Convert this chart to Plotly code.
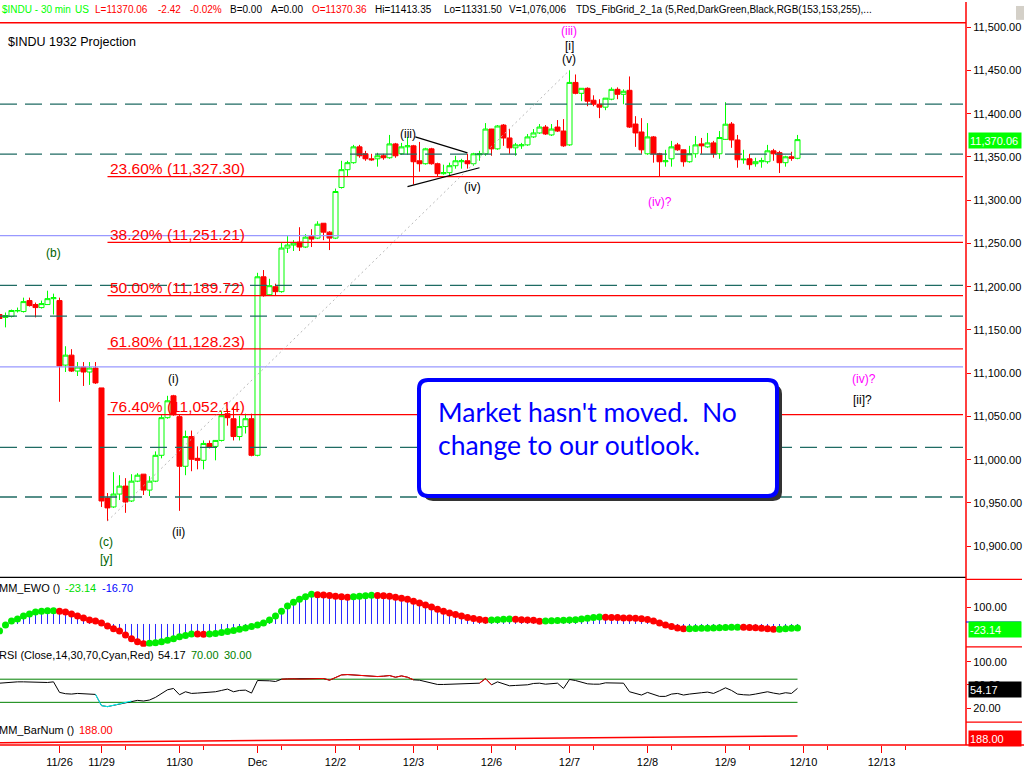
import plotly.graph_objects as go

# ---------------- data ----------------
sessions = ['11/24', '11/26', '11/29', '11/30', 'Dec', '12/2', '12/3', '12/6', '12/7', '12/8', '12/9']
bars_per_session = [10, 7, 13, 13, 13, 13, 13, 13, 13, 13, 13]
future_sessions = ['12/10', '12/13']

opens = [11167.9, 11164.5, 11165.6, 11172.0, 11171.3, 11184.0, 11179.4, 11175.9, 11179.4, 11186.2,
         11184.0, 11109.4, 11120.9, 11102.5, 11107.1, 11101.4, 11106.0, 11083.0, 10955.7, 10945.4,
         10960.3, 10969.5, 10952.3, 10975.2, 10983.3, 10964.9, 10975.2, 11005.1, 11048.6, 11073.9,
         11049.8, 10992.4, 11026.8, 11001.6, 10999.3, 11018.8, 11015.4, 11022.3, 11053.2, 11047.4,
         11026.8, 11038.3, 11047.4, 11005.1, 11211.5, 11190.8, 11200.0, 11194.3, 11244.7, 11248.2,
         11251.6, 11245.9, 11258.5, 11256.2, 11273.4, 11263.1, 11256.2, 11314.7, 11335.3, 11343.4,
         11361.7, 11353.7, 11347.9, 11347.9, 11351.4, 11349.1, 11365.1, 11353.7, 11361.7, 11362.9,
         11345.6, 11342.2, 11359.4, 11342.2, 11330.7, 11331.9, 11339.9, 11344.5, 11345.6, 11342.2,
         11352.5, 11353.7, 11382.3, 11359.4, 11386.9, 11372.0, 11360.6, 11362.9, 11364.0, 11373.2,
         11377.8, 11384.6, 11375.5, 11384.6, 11380.0, 11364.0, 11436.2, 11423.6, 11429.4, 11415.6,
         11411.0, 11407.6, 11416.8, 11428.2, 11422.5, 11427.1, 11388.1, 11378.9, 11353.7, 11373.2,
         11353.7, 11344.5, 11347.9, 11364.0, 11358.3, 11344.5, 11353.7, 11365.1, 11361.7, 11366.3,
         11353.7, 11370.36, 11388.1, 11369.7, 11346.8, 11347.9, 11342.2, 11344.5, 11344.5, 11357.1,
         11355.0, 11343.4, 11350.2, 11348.5]
highs = [11171.3, 11170.2, 11173.6, 11175.9, 11187.4, 11187.4, 11181.7, 11184.0, 11195.4, 11192.0,
         11187.4, 11131.2, 11127.8, 11112.9, 11112.9, 11112.9, 11112.9, 11083.0, 10961.5, 10985.6,
         10982.1, 10978.7, 10983.3, 10984.4, 10983.5, 10981.0, 11009.6, 11052.0, 11073.9, 11075.0,
         11052.0, 11033.7, 11033.7, 11015.4, 11022.3, 11022.3, 11022.5, 11056.6, 11058.9, 11061.2,
         11050.9, 11053.2, 11053.2, 11216.1, 11219.3, 11209.2, 11203.5, 11250.5, 11258.5, 11253.9,
         11268.8, 11260.8, 11266.5, 11275.7, 11273.6, 11264.2, 11313.5, 11345.6, 11345.6, 11364.0,
         11364.0, 11357.1, 11353.7, 11354.8, 11353.7, 11375.5, 11366.3, 11366.3, 11373.2, 11364.0,
         11367.4, 11360.6, 11360.6, 11343.4, 11341.1, 11343.4, 11351.4, 11347.9, 11353.7, 11354.8,
         11357.1, 11389.2, 11382.5, 11386.9, 11388.1, 11382.3, 11366.3, 11366.3, 11376.6, 11382.3,
         11388.1, 11386.9, 11388.1, 11392.7, 11393.8, 11450.3, 11445.4, 11429.6, 11430.5, 11421.3,
         11416.8, 11418.2, 11430.5, 11430.5, 11428.2, 11443.1, 11397.2, 11394.9, 11389.2, 11374.3,
         11354.8, 11358.3, 11368.6, 11366.3, 11358.5, 11362.9, 11374.3, 11372.0, 11377.8, 11368.6,
         11380.0, 11413.35, 11390.4, 11375.5, 11358.3, 11353.7, 11349.1, 11349.1, 11364.0, 11359.4,
         11357.1, 11351.4, 11356.0, 11375.5]
lows = [11161.0, 11153.0, 11164.5, 11170.2, 11170.2, 11177.1, 11164.5, 11174.8, 11179.0, 11167.9,
        11067.0, 11101.4, 11101.4, 11096.8, 11085.3, 11086.5, 11087.6, 10945.4, 10929.2, 10944.3,
        10953.4, 10938.6, 10951.1, 10974.1, 10959.2, 10958.0, 10974.1, 11001.6, 11047.4, 11050.9,
        10940.9, 10982.1, 10986.7, 10988.9, 10988.9, 11013.1, 10999.3, 11021.1, 11039.4, 11022.3,
        11022.3, 11030.3, 11003.9, 11003.9, 11188.5, 11189.7, 11189.7, 11193.1, 11239.0, 11241.3,
        11241.3, 11244.7, 11245.9, 11255.1, 11253.9, 11242.4, 11255.1, 11313.5, 11327.3, 11342.2,
        11349.1, 11345.6, 11345.6, 11338.8, 11346.8, 11347.9, 11349.1, 11352.5, 11352.5, 11318.1,
        11333.0, 11341.1, 11341.1, 11327.3, 11329.6, 11328.4, 11336.5, 11336.5, 11336.5, 11339.9,
        11345.6, 11351.4, 11351.4, 11358.3, 11362.9, 11353.7, 11351.4, 11359.4, 11362.9, 11372.0,
        11376.6, 11375.5, 11374.3, 11378.9, 11361.7, 11362.9, 11422.5, 11414.5, 11408.7, 11408.7,
        11394.9, 11404.1, 11415.6, 11416.8, 11411.0, 11383.5, 11361.7, 11353.7, 11352.5, 11343.4,
        11327.3, 11338.8, 11338.8, 11357.1, 11338.8, 11343.4, 11349.1, 11353.7, 11360.6, 11349.1,
        11347.9, 11369.7, 11360.6, 11337.6, 11342.2, 11335.3, 11338.8, 11337.6, 11342.2, 11345.6,
        11331.5, 11338.8, 11345.6, 11347.4]
closes = [11163.3, 11166.7, 11172.5, 11172.5, 11182.8, 11178.2, 11175.9, 11180.5, 11186.2, 11187.4,
          11108.3, 11120.9, 11102.5, 11107.1, 11101.4, 11106.0, 11088.8, 10952.3, 10944.3, 10960.3,
          10969.5, 10951.1, 10975.2, 10982.1, 10964.9, 10975.2, 11005.1, 11048.6, 11068.1, 11052.0,
          10992.4, 11026.8, 11000.5, 10999.3, 11018.8, 11014.3, 11022.3, 11050.9, 11048.6, 11026.8,
          11038.3, 11047.4, 11005.1, 11211.5, 11189.7, 11201.2, 11194.3, 11244.7, 11248.2, 11250.5,
          11245.9, 11257.3, 11255.1, 11272.3, 11263.1, 11256.2, 11310.1, 11335.3, 11343.4, 11361.7,
          11351.4, 11347.9, 11346.8, 11351.4, 11349.1, 11365.1, 11351.4, 11361.7, 11362.9, 11344.5,
          11342.2, 11359.4, 11342.2, 11330.7, 11331.9, 11339.9, 11345.6, 11345.6, 11342.2, 11353.7,
          11353.7, 11382.3, 11359.4, 11385.8, 11372.0, 11360.6, 11364.0, 11364.0, 11373.2, 11377.8,
          11384.6, 11376.6, 11382.3, 11380.0, 11362.9, 11436.2, 11423.6, 11429.4, 11414.5, 11411.0,
          11407.6, 11418.0, 11428.2, 11422.5, 11426.0, 11384.6, 11377.8, 11358.3, 11373.2, 11353.7,
          11344.5, 11345.6, 11361.7, 11358.3, 11344.5, 11353.7, 11364.0, 11362.9, 11366.3, 11353.7,
          11372.48, 11387.9, 11369.7, 11346.8, 11347.4, 11341.1, 11344.5, 11345.6, 11357.1, 11353.7,
          11343.4, 11350.2, 11348.5, 11370.06]

ewo = [-41, -6, 18, 29, 47, 59, 71, 76, 78, 79,
       76, 71, 59, 47, 35, 24, 18, 6, -12, -29,
       -41, -65, -88, -106, -118, -115, -112, -106, -97, -88,
       -76, -68, -59, -60, -61, -59, -56, -50, -44, -38,
       -32, -24, -15, -6, 6, 24, 47, 76, 106, 129,
       147, 162, 176, 174, 172, 169, 165, 162, 159, 161,
       164, 167, 170, 169, 167, 164, 159, 153, 147, 135,
       124, 112, 100, 88, 76, 65, 56, 47, 38, 32,
       26, 22, 23, 25, 28, 29, 28, 25, 23, 22,
       16, 18, 19, 20, 22, 24, 25, 29, 34, 38,
       41, 40, 39, 38, 36, 35, 34, 31, 26, 18,
       6, -6, -15, -24, -29, -28, -27, -26, -25, -24,
       -22, -21, -20, -19, -20, -21, -22, -25, -28, -32,
       -31, -28, -26, -23.14]
ewo_signal_last = -16.70

rsi = [63.1, 64.3, 64.9, 65.4, 65.4, 64.9, 64.3, 63.7, 64.3, 65.4,
       47.2, 44.9, 44.3, 45.4, 44.9, 44.3, 43.7, 24.3, 22.6, 24.8,
       27.1, 29.4, 32.3, 33.4, 32.3, 34.0, 38.6, 45.4, 51.7, 54.0,
       43.1, 48.3, 45.4, 46.0, 46.6, 47.2, 48.3, 50.6, 52.9, 48.3,
       50.6, 51.1, 46.0, 67.7, 67.7, 67.2, 66.0, 70.0, 70.6, 70.6,
       70.0, 70.6, 71.2, 70.6, 71.2, 68.3, 73.4, 77.4, 78.0, 77.4,
       76.9, 75.2, 74.6, 74.6, 75.2, 76.3, 73.4, 75.7, 73.4, 68.9,
       68.3, 66.0, 63.1, 60.9, 60.9, 61.4, 62.0, 62.0, 62.6, 63.1,
       63.1, 71.0, 60.3, 65.4, 62.0, 58.6, 59.2, 59.2, 60.3, 62.6,
       63.1, 61.4, 62.0, 63.1, 54.0, 69.5, 67.7, 64.9, 62.0, 61.4,
       61.4, 63.7, 63.1, 63.1, 63.1, 48.3, 46.0, 42.6, 47.2, 44.3,
       40.3, 40.3, 44.3, 45.4, 42.6, 44.3, 46.0, 46.6, 47.7, 45.4,
       50.0, 55.1, 50.6, 44.3, 43.1, 42.6, 44.3, 46.0, 48.3, 46.0,
       44.3, 46.6, 45.4, 54.17]
rsi_upper, rsi_lower = 70.0, 30.0

barnum = [55, 56, 57, 58, 59, 60, 61, 62, 63, 64, 65, 66, 67, 68, 69, 70, 71, 72, 73, 74,
          75, 76, 77, 78, 79, 80, 81, 82, 83, 84, 85, 86, 87, 88, 89, 90, 91, 92, 93, 94,
          95, 96, 97, 98, 99, 100, 101, 102, 103, 104, 105, 106, 107, 108, 109, 110, 111, 112, 113, 114,
          115, 116, 117, 118, 119, 120, 121, 122, 123, 124, 125, 126, 127, 128, 129, 130, 131, 132, 133, 134,
          135, 136, 137, 138, 139, 140, 141, 142, 143, 144, 145, 146, 147, 148, 149, 150, 151, 152, 153, 154,
          155, 156, 157, 158, 159, 160, 161, 162, 163, 164, 165, 166, 167, 168, 169, 170, 171, 172, 173, 174,
          175, 176, 177, 178, 179, 180, 181, 182, 183, 184, 185, 186, 187, 188]

fib_pcts = [23.60, 38.20, 50.00, 61.80, 76.40]
fib_levels = [11327.30, 11251.21, 11189.72, 11128.23, 11052.14]
dashed_levels = [11411.0, 11353.3, 11201.6, 11166.0, 11014.2, 10956.9]
lavender_levels = [11259.1, 11107.4]
price_ticks = [10900, 10950, 11000, 11050, 11100, 11150, 11200, 11250, 11300, 11350, 11400, 11450, 11500]

fib_low_bar, fib_high_bar = 18, 95
tri_upper = [(69.3, 11373.2), (78.0, 11354.8)]
tri_lower = [(68.0, 11315.8), (80.0, 11337.6)]

# ---------------- geometry helpers ----------------
PW, PH = 966.0, 749.0
FONT = 'Arial, Liberation Sans, sans-serif'


def X(px):
    return px / PW


def Y(py):
    return (PH - py) / PH


def P(px):  # pixel -> bar position (bar centres land on pixel centres)
    return (px + 0.5) / 6.0


xpos = list(range(len(opens)))

starts = []
s = 0
for n in bars_per_session:
    starts.append(s)
    s += n
tick_pos = starts[1:] + [s, s + 13]
tick_txt = sessions[1:] + future_sessions
minor_pos = [st + 4 for st, n in zip(starts, bars_per_session) if n == 13 and st > 0] + [s + 4, s + 17]

fig = go.Figure()

fig.add_trace(go.Candlestick(
    x=xpos, open=opens, high=highs, low=lows, close=closes,
    increasing=dict(line=dict(color='#00ff00', width=1), fillcolor='#ffffff'),
    decreasing=dict(line=dict(color='#ff0000', width=1), fillcolor='#ff0000'),
    whiskerwidth=0, xaxis='x', yaxis='y', showlegend=False, hoverinfo='skip'))

# EWO histogram + dots
hx, hy = [], []
for p, v in zip(xpos, ewo):
    hx += [p, p, None]
    hy += [0, v, None]
fig.add_trace(go.Scatter(x=hx, y=hy, mode='lines', line=dict(color='#2a2aff', width=1),
                         xaxis='x', yaxis='y2', showlegend=False, hoverinfo='skip'))
ewo_colors = ['#00ee00'] + ['#00ee00' if ewo[k] >= ewo[k - 1] else '#ff0000' for k in range(1, len(ewo))]
fig.add_trace(go.Scatter(x=xpos, y=ewo, mode='markers', marker=dict(size=7, color=ewo_colors, line=dict(width=0)),
                         xaxis='x', yaxis='y2', showlegend=False, hoverinfo='skip'))

# RSI
fig.add_trace(go.Scatter(x=xpos, y=[rsi_upper] * len(xpos), mode='lines', line=dict(color='#008000', width=1),
                         xaxis='x', yaxis='y3', showlegend=False, hoverinfo='skip'))
fig.add_trace(go.Scatter(x=xpos, y=[rsi_lower] * len(xpos), mode='lines', line=dict(color='#008000', width=1),
                         xaxis='x', yaxis='y3', showlegend=False, hoverinfo='skip'))
fig.add_trace(go.Scatter(x=xpos, y=rsi, mode='lines', line=dict(color='#000000', width=1),
                         xaxis='x', yaxis='y3', showlegend=False, hoverinfo='skip'))


def overlay(cond):
    out = []
    for k in range(len(rsi)):
        near = cond(rsi[k]) or (k > 0 and cond(rsi[k - 1])) or (k < len(rsi) - 1 and cond(rsi[k + 1]))
        out.append(rsi[k] if near else None)
    return out


fig.add_trace(go.Scatter(x=xpos, y=overlay(lambda r: r > rsi_upper), mode='lines',
                         line=dict(color='#ff0000', width=1), connectgaps=False,
                         xaxis='x', yaxis='y3', showlegend=False, hoverinfo='skip'))
fig.add_trace(go.Scatter(x=xpos, y=overlay(lambda r: r < rsi_lower), mode='lines',
                         line=dict(color='#00ffff', width=1), connectgaps=False,
                         xaxis='x', yaxis='y3', showlegend=False, hoverinfo='skip'))

# BarNum
fig.add_trace(go.Scatter(x=xpos, y=barnum, mode='lines', line=dict(color='#ff0000', width=1.5),
                         xaxis='x', yaxis='y4', showlegend=False, hoverinfo='skip'))

shapes = []
xr_end = P(963)
for lv in dashed_levels:
    shapes.append(dict(type='line', xref='x', yref='y', x0=P(0), x1=xr_end, y0=lv, y1=lv,
                       line=dict(color='#1f6b63', width=1.3, dash='17px,8px')))
for lv in lavender_levels:
    shapes.append(dict(type='line', xref='x', yref='y', x0=P(0), x1=xr_end, y0=lv, y1=lv,
                       line=dict(color='rgb(153,153,255)', width=1.3)))
for lv in fib_levels:
    shapes.append(dict(type='line', xref='x', yref='y', x0=fib_low_bar, x1=xr_end, y0=lv, y1=lv,
                       line=dict(color='#ff0000', width=1.2)))
shapes.append(dict(type='line', xref='x', yref='y', x0=fib_low_bar, y0=lows[fib_low_bar],
                   x1=fib_high_bar, y1=highs[fib_high_bar],
                   line=dict(color='#b8b8b8', width=1, dash='2px,3px')))
for seg in (tri_upper, tri_lower):
    shapes.append(dict(type='line', xref='x', yref='y', x0=seg[0][0], y0=seg[0][1], x1=seg[1][0], y1=seg[1][1],
                       line=dict(color='#000000', width=1.2)))

# frame lines
shapes += [
    dict(type='line', xref='paper', yref='paper', x0=0, x1=1, y0=Y(21), y1=Y(21), line=dict(color='#ff0000', width=1.5)),
    dict(type='line', xref='paper', yref='paper', x0=0, x1=1, y0=Y(580), y1=Y(580), line=dict(color='#000000', width=1.2)),
    dict(type='line', xref='paper', yref='paper', x0=1, x1=1, y0=Y(0), y1=Y(749), line=dict(color='#ff0000', width=1.5)),
    dict(type='line', xref='paper', yref='paper', x0=0, x1=X(1024), y0=Y(749), y1=Y(749), line=dict(color='#ff0000', width=1.5)),
]
for py in (582, 650, 726):
    shapes.append(dict(type='line', xref='paper', yref='paper', x0=1, x1=X(1022), y0=Y(py), y1=Y(py),
                       line=dict(color='#ff0000', width=1.2)))
shapes.append(dict(type='line', xref='paper', yref='paper', x0=1, x1=X(1021), y0=Y(625), y1=Y(625),
                   line=dict(color='#0000ff', width=1.2)))
shapes.append(dict(type='rect', xref='paper', yref='paper', x0=X(1016), x1=X(1024), y0=Y(18), y1=Y(4),
                   fillcolor='#d4d0c8', line=dict(width=0)))


def rrect(x0, y0, x1, y1, r):
    pts = [('M', x0 + r, y0), ('L', x1 - r, y0), ('Q', x1, y0, x1, y0 + r), ('L', x1, y1 - r),
           ('Q', x1, y1, x1 - r, y1), ('L', x0 + r, y1), ('Q', x0, y1, x0, y1 - r), ('L', x0, y0 + r),
           ('Q', x0, y0, x0 + r, y0)]
    out = ''
    for p in pts:
        c = p[0]
        vals = p[1:]
        coords = []
        for k in range(0, len(vals), 2):
            coords.append('%.5f,%.5f' % (X(vals[k]), Y(vals[k + 1])))
        out += c + ' ' + ' '.join(coords) + ' '
    return out + 'Z'


shapes.append(dict(type='path', xref='paper', yref='paper', path=rrect(424, 386, 782, 503, 9),
                   fillcolor='#333333', line=dict(width=0)))
shapes.append(dict(type='path', xref='paper', yref='paper', path=rrect(419, 381, 777, 498, 9),
                   fillcolor='#ffffff', line=dict(color='#0000ff', width=4)))

ann = []


def txt(px, py, text, color='#000000', size=12, anchor='left', family=FONT):
    ann.append(dict(xref='paper', yref='paper', x=X(px), y=Y(py), text=text, showarrow=False,
                    xanchor=anchor, yanchor='middle', font=dict(color=color, size=size, family=family)))


# header
hdr = [(0, '$INDU - 30 min', '#00ff00'), (73, 'US', '#00ff00'), (93, 'L=11370.06', '#ff0000'),
       (156, '-2.42', '#ff0000'), (188, '-0.02%', '#ff0000'), (228, 'B=0.00', '#000000'),
       (269, 'A=0.00', '#000000'), (310, 'O=11370.36', '#ff0000'), (373, 'Hi=11413.35', '#000000'),
       (442, 'Lo=11331.50', '#000000'), (507, 'V=1,076,006', '#000000'),
       (574, 'TDS_FibGrid_2_1a (5,Red,DarkGreen,Black,RGB(153,153,255),...', '#000000')]
for px, t, c in hdr:
    txt(px, 8, t, c, 10)
txt(6, 40, '$INDU 1932 Projection', '#000000', 12.5)

for pct, lv, py in zip(fib_pcts, fib_levels, [168, 234, 288, 342, 408]):
    txt(108, py, '%.2f%% (%s)' % (pct, format(lv, ',.2f')), '#ff0000', 15.5)

DG = '#006400'
MG = '#ff00ff'
txt(53, 253, '(b)', DG, 12, 'center')
txt(106, 544, '(c)', DG, 12, 'center')
txt(106, 562, '[y]', DG, 12, 'center')
txt(173, 380, '(i)', '#000000', 12, 'center')
txt(178, 534, '(ii)', '#000000', 12, 'center')
txt(408, 133, '(iii)', '#000000', 12, 'center')
txt(472, 186, '(iv)', '#000000', 12, 'center')
txt(569, 29, '(iii)', MG, 12, 'center')
txt(569, 44, '[i]', '#000000', 12, 'center')
txt(569, 57, '(v)', '#000000', 12, 'center')
txt(660, 202, '(iv)?', MG, 12, 'center')
txt(864, 380, '(iv)?', MG, 12, 'center')
txt(862, 401, '[ii]?', '#000000', 12, 'center')

# text box
BOXFONT = 'Lato, Open Sans, sans-serif'
txt(436, 413, "Market hasn't moved.&nbsp;&nbsp;No", '#0000ff', 26.5, 'left', BOXFONT)
txt(436, 447, 'change to our outlook.', '#0000ff', 26.5, 'left', BOXFONT)

# indicator labels
txt(-3, 591, 'MM_EWO ()', '#000000', 11)
txt(63, 591, '%.2f' % ewo[-1], '#00dd00', 11)
txt(100, 591, '%.2f' % ewo_signal_last, '#0000ff', 11)
txt(-3, 658, 'RSI (Close,14,30,70,Cyan,Red)', '#000000', 11)
txt(156, 658, '%.2f' % rsi[-1], '#000000', 11)
txt(189, 658, '%.2f' % rsi_upper, '#008000', 11)
txt(222, 658, '%.2f' % rsi_lower, '#008000', 11)
txt(-3, 734, 'MM_BarNum ()', '#000000', 11)
txt(77, 734, '%.2f' % barnum[-1], '#ff0000', 11)

# right axis value boxes
for py, bg, txtv in [(140, '#00ff00', format(closes[-1], ',.2f')),
                     (633, '#00ff00', '%.2f' % ewo[-1]),
                     (693, '#000000', '%.2f' % rsi[-1]),
                     (742, '#ff0000', '%.2f' % barnum[-1])]:
    ann.append(dict(xref='paper', yref='paper', x=X(968), y=Y(py), text=txtv, showarrow=False,
                    xanchor='left', yanchor='middle', align='left', width=50, height=13,
                    bgcolor=bg, borderpad=1, font=dict(color='#ffffff', size=11, family=FONT)))

axis_common = dict(showgrid=False, zeroline=False, showline=False, side='right', anchor='x',
                   ticks='outside', ticklen=4, tickcolor='#ff0000', tickwidth=1,
                   tickfont=dict(size=11, color='#000000', family=FONT), fixedrange=True)

fig.update_layout(
    width=1024, height=768,
    margin=dict(l=0, r=58, t=0, b=19),
    paper_bgcolor='#ffffff', plot_bgcolor='#ffffff',
    showlegend=False,
    boxgap=0.12, boxgroupgap=0.05,
    xaxis=dict(domain=[0, 1], range=[P(0), P(966)], anchor='y4', showgrid=False, zeroline=False,
               showline=False, rangeslider=dict(visible=False),
               tickmode='array', tickvals=tick_pos, ticktext=tick_txt, ticks='outside', ticklen=7,
               tickcolor='#ff0000', tickwidth=1, tickfont=dict(size=11, color='#000000', family=FONT),
               minor=dict(tickvals=minor_pos, ticks='outside', ticklen=4, tickcolor='#ff0000', tickwidth=1)),
    yaxis=dict(domain=[Y(580), Y(21)], range=[10864.0, 11505.1], tickmode='array', tickvals=price_ticks,
               tickformat=',.2f', **axis_common),
    yaxis2=dict(domain=[Y(650), Y(580)], range=[-135.3, 276.5], tickmode='array', tickvals=[100],
                tickformat='.2f', **axis_common),
    yaxis3=dict(domain=[Y(726), Y(650)], range=[-4.3, 126.0], tickmode='array', tickvals=[20, 60, 100],
                tickformat='.2f', **axis_common),
    yaxis4=dict(domain=[0, Y(726)], range=[8, 468], tickmode='array', tickvals=[], **axis_common),
    shapes=shapes, annotations=ann,
    font=dict(family=FONT),
)

fig.write_html('out.html', config={'displayModeBar': False},
               post_script="document.body.style.margin='0';document.body.style.overflow='hidden';")
